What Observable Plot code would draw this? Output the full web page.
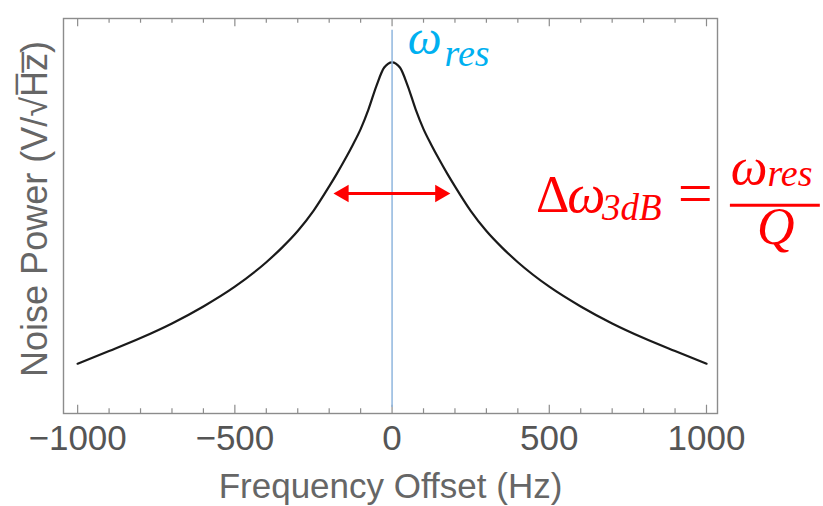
<!DOCTYPE html>
<html><head><meta charset="utf-8">
<script src="https://cdn.jsdelivr.net/npm/d3@7"></script>
<script src="https://cdn.jsdelivr.net/npm/@observablehq/plot@0.6"></script>
<style>body{margin:0;background:#fff} svg{overflow:visible}</style>
</head><body><div id="chart"></div>
<script>
// Frequency offset (Hz) and noise amplitude (arbitrary units)
const freqHz = [-1000,-900,-800,-700,-600,-500,-400,-350,-300,-250,-200,-175,-150,-125,-100,-75,-50,-25,0,
                25,50,75,100,125,150,175,200,250,300,350,400,500,600,700,800,900,1000];
const noisePower = [0.126,0.158,0.191,0.228,0.271,0.321,0.383,0.420,0.462,0.513,0.575,0.608,0.643,0.680,0.720,0.770,0.829,0.876,0.889,
                    0.876,0.829,0.770,0.720,0.680,0.643,0.608,0.575,0.513,0.462,0.420,0.383,0.321,0.271,0.228,0.191,0.158,0.126];
const majorTicks = [-1000,-500,0,500,1000];
const minorTicks = [-900,-800,-700,-600,-400,-300,-200,-100,100,200,300,400,600,700,800,900];
const tickLabels = ["\u22121000","\u2212500","0","500","1000"];
const xTitle = "Frequency Offset (Hz)";
const yTitle = "Noise Power (V/\u221AH\u0305z\u0305)";
const resonanceHz = [0];
const bandwidthArrowHz = [-186, 185];
const arrowLevel = [0.557];

const blue = "#00B0F0", red = "#FF0000", gray = "#8c8c8c";
const serif = "Liberation Serif";
const data = freqHz.map((f, i) => ({f, v: noisePower[i]}));

function mt(txt, x, y, size, fill, italic = true, anchor = "start") {
  return Plot.text([txt], {x: [x], y: [y], text: [txt], lineAnchor: "bottom", textAnchor: anchor,
    fontFamily: serif, fontSize: size, fontStyle: italic ? "italic" : "normal", fill});
}

const chart = Plot.plot({
  width: 823, height: 506,
  marginLeft: 63, marginRight: 106, marginTop: 18, marginBottom: 93,
  x: {domain: [-1045, 1035], axis: null},
  y: {domain: [0, 1], axis: null},
  style: {fontFamily: "Liberation Sans", background: "#fff", overflow: "visible"},
  marks: [
    Plot.ruleX(majorTicks, {x: d => d, y1: 0, y2: 0.021, stroke: gray, strokeWidth: 1.2}),
    Plot.ruleX(majorTicks, {x: d => d, y1: 1, y2: 0.979, stroke: gray, strokeWidth: 1.2}),
    Plot.ruleX(minorTicks, {x: d => d, y1: 0, y2: 0.012, stroke: gray, strokeWidth: 1.2}),
    Plot.ruleX(minorTicks, {x: d => d, y1: 1, y2: 0.988, stroke: gray, strokeWidth: 1.2}),
    Plot.frame({stroke: gray, strokeWidth: 1.4}),
    Plot.text(majorTicks, {x: d => d, text: (d, i) => tickLabels[i], frameAnchor: "bottom", lineAnchor: "top",
      dy: 12, fontSize: 35, fill: "#555"}),
    Plot.text([xTitle], {text: d => d, frameAnchor: "bottom", lineAnchor: "bottom", dy: 84, fontSize: 35, fill: "#666"}),
    Plot.text([yTitle], {text: d => d, frameAnchor: "left", textAnchor: "middle", rotate: -90, dx: -28, dy: -7, fontSize: 36, fill: "#666"}),
    Plot.line(data, {x: "f", y: "v", stroke: "#1a1a1a", strokeWidth: 2.2, curve: "monotone-x"}),
    Plot.ruleX(resonanceHz, {x: d => d, y1: 0.015, y2: 0.97, stroke: "#8fb6de", strokeWidth: 1.5}),
    Plot.ruleY(arrowLevel, {y: d => d, x1: [bandwidthArrowHz[0]], x2: [bandwidthArrowHz[1]], stroke: red, strokeWidth: 3, insetLeft: 8, insetRight: 8}),
    Plot.dot(arrowLevel, {x: [bandwidthArrowHz[0]], y: d => d, symbol: "triangle", r: 6.5, fill: red, stroke: "none", rotate: -90, dx: 10}),
    Plot.dot(arrowLevel, {x: [bandwidthArrowHz[1]], y: d => d, symbol: "triangle", r: 6.5, fill: red, stroke: "none", rotate: 90, dx: -10}),
    // ω_res label (blue)
    mt("ω", 50, 0.911, 48, blue),
    mt("res", 167, 0.881, 38, blue),
    // Δω_3dB = ω_res / Q (red)
    mt("Δ", 458, 0.509, 52, red, false),
    mt("ω", 557, 0.509, 54, red),
    mt("3dB", 668, 0.489, 37, red),
    mt("=", 964, 0.506, 62, red, false, "middle"),
    Plot.ruleY([0.527], {y: d => d, x1: [1076], x2: [1362], stroke: red, strokeWidth: 3}),
    mt("ω", 1077, 0.582, 52, red),
    mt("res", 1194, 0.577, 38, red),
    mt("Q", 1220, 0.428, 52, red, true, "middle")
  ]
});
document.getElementById("chart").appendChild(chart);
</script>
</body></html>
